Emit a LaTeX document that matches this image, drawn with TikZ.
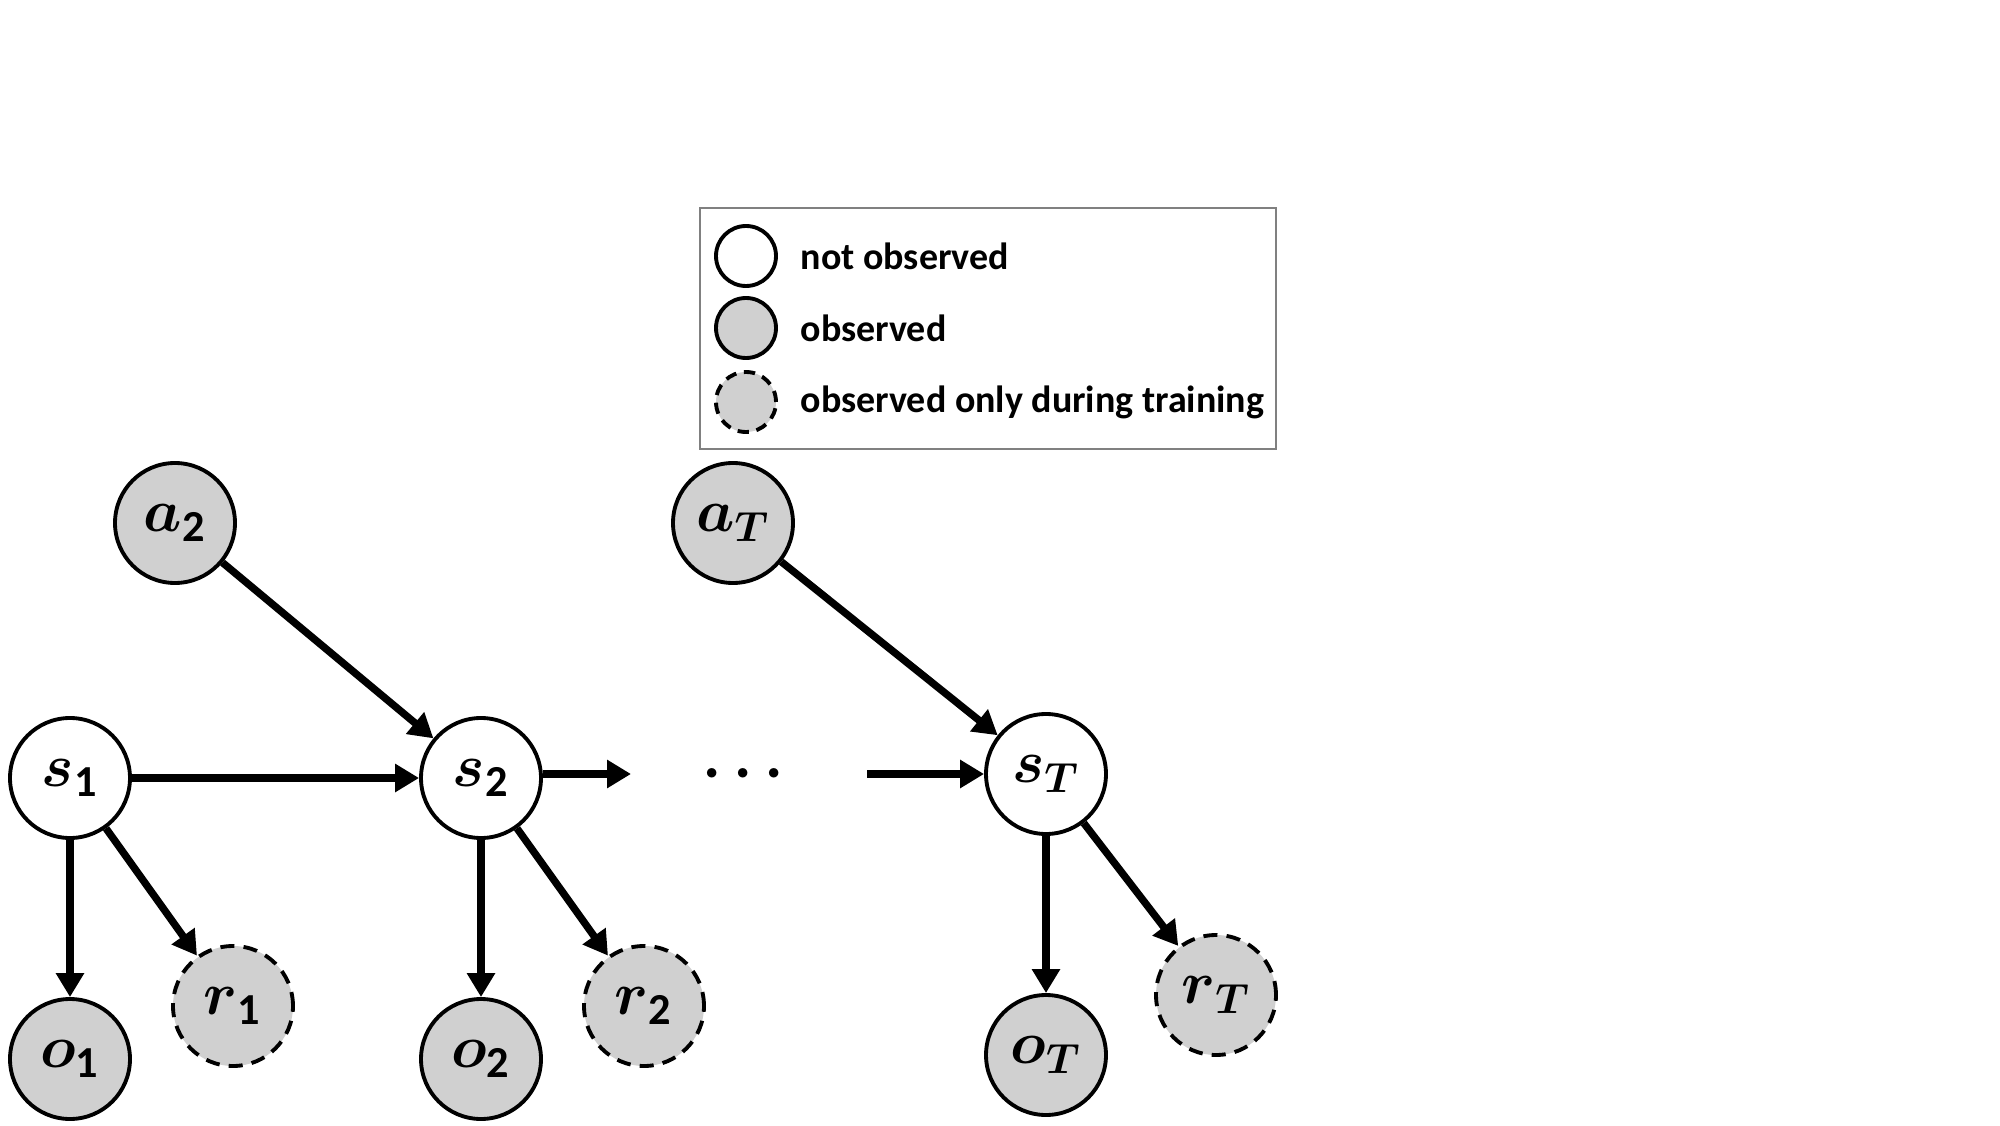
\documentclass[tikz,border=0pt]{standalone}
\usepackage{amsmath,amssymb}
\usepackage{fontspec}
\setmainfont{Carlito}
\usepackage{tikz}
\usetikzlibrary{arrows.meta, positioning, calc}
\definecolor{ObsGrey}{HTML}{D0D0D0}
\definecolor{BoxGrey}{HTML}{808080}

\begin{document}
\begin{tikzpicture}[>={Triangle[length=2.4mm,width=2.7mm]}, every node/.style={transform shape}]
    \tikzstyle{hidden} = [circle, draw=black, fill=white, line width=1.1pt, minimum size=1.2cm, inner sep=0pt, font=\fontsize{18}{21}\selectfont]
    \tikzstyle{seen} = [hidden, fill=ObsGrey]
    \tikzstyle{train} = [seen, dashed, dash pattern=on 4pt off 2.6pt]
    \tikzstyle{key} = [circle, draw=black, line width=1.1pt, minimum size=0.6cm, inner sep=0pt]
    \tikzstyle{keytext} = [anchor=west, font=\bfseries\fontsize{10.8}{13}\selectfont, inner sep=0pt]
    \tikzstyle{line} = [draw, ->, line width=2.1pt]

    \useasboundingbox (0,0) rectangle (20,11.25);

    % legend
    \node [draw=BoxGrey, line width=0.8pt, minimum width=5.76cm, minimum height=2.41cm, inner sep=0pt] (legend) at (9.88,7.965) {};
    \node [key, fill=white] (k1) at (7.46,8.69) {};
    \node [key, fill=ObsGrey] (k2) at (7.46,7.97) {};
    \node [key, fill=ObsGrey, dashed, dash pattern=on 3.2pt off 2.2pt] (k3) at (7.46,7.23) {};
    \node [keytext] (t1) at (8.00,8.69) {not observed};
    \node [keytext] (t2) at (8.00,7.97) {observed};
    \node [keytext] (t3) at (8.00,7.23) {observed only during training};

    % states
    \node [hidden] (s1) at (0.70,3.47) {$\boldsymbol{s}_{\mathbf{1}}$};
    \node [hidden] (s2) at (4.81,3.47) {$\boldsymbol{s}_{\mathbf{2}}$};
    \node [hidden] (sT) at (10.46,3.51) {$\boldsymbol{s}_{\boldsymbol{T}}$};

    % actions
    \node [seen] (a2) at (1.75,6.02) {$\boldsymbol{a}_{\mathbf{2}}$};
    \node [seen] (aT) at (7.33,6.02) {$\boldsymbol{a}_{\boldsymbol{T}}$};

    % observations and rewards
    \node [seen] (o1) at (0.70,0.66) {$\boldsymbol{o}_{\mathbf{1}}$};
    \node [seen] (o2) at (4.81,0.66) {$\boldsymbol{o}_{\mathbf{2}}$};
    \node [seen] (oT) at (10.46,0.70) {$\boldsymbol{o}_{\boldsymbol{T}}$};
    \node [train] (r1) at (2.33,1.19) {$\boldsymbol{r}_{\mathbf{1}}$};
    \node [train] (r2) at (6.44,1.19) {$\boldsymbol{r}_{\mathbf{2}}$};
    \node [train] (rT) at (12.16,1.30) {$\boldsymbol{r}_{\boldsymbol{T}}$};

    \node [font=\fontsize{19}{22}\selectfont] (dots) at (7.49,3.51) {$\boldsymbol{\cdots}$};
    \coordinate (stubend) at (6.31,3.51);
    \coordinate (stubstart) at (8.67,3.51);

    \path [line] (s1) -- (s2);
    \path [line] (s2.east |- stubend) -- (stubend);
    \path [line] (stubstart) -- (sT.west |- stubstart);
    \path [line] (a2) -- (s2);
    \path [line] (aT) -- (sT);
    \path [line] (s1) -- (o1);
    \path [line] (s2) -- (o2);
    \path [line] (sT) -- (oT);
    \path [line] (s1) -- (r1);
    \path [line] (s2) -- (r2);
    \path [line] (sT) -- (rT);
\end{tikzpicture}
\end{document}
